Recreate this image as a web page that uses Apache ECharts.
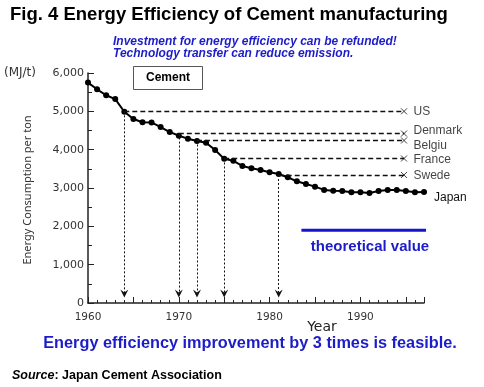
<!DOCTYPE html>
<html><head><meta charset="utf-8">
<script src="https://cdn.jsdelivr.net/npm/echarts@6/dist/echarts.min.js"></script>
<style>html,body{margin:0;padding:0;background:#fff}#c{width:484px;height:387px}</style>
</head><body><div id="c"></div>
<script>
const years = [1960,1961,1962,1963,1964,1965,1966,1967,1968,1969,1970,1971,1972,1973,1974,1975,1976,1977,1978,1979,1980,1981,1982,1983,1984,1985,1986,1987,1988,1989,1990,1991,1992,1993,1994,1995,1996,1997];
const japan = [5750,5575,5420,5320,4990,4800,4715,4710,4590,4460,4365,4285,4225,4180,3990,3760,3710,3575,3515,3470,3410,3365,3280,3175,3105,3035,2950,2930,2920,2890,2890,2870,2920,2950,2950,2920,2890,2895];
const countries = ['US','Denmark','Belgiu','France','Swede'];
const countryValues = [5000,4420,4240,3770,3340];
const countryYears = [1964,1970,1972,1975,1981];
const countryEndYear = 1994.8;
const theoreticalValue = 1900;
const theoreticalRange = [1983.5,1997.4];
const yTicks = [0,1000,2000,3000,4000,5000,6000];
const xLabels = [1960,1970,1980,1990];

const blue = '#1c1cc8';
const chart = echarts.init(document.getElementById('c'), null, {renderer:'canvas'});
const labelOffsets = {Denmark:[0,-3], Belgiu:[0,5], France:[0,1], Swede:[0,1], US:[0,0]};

const option = {
  animation:false,
  backgroundColor:'#fff',
  grid:{left:88,right:60,top:73,bottom:84},
  xAxis:{type:'value',min:1960,max:1997,interval:5,
    axisLine:{lineStyle:{color:'#222',width:1.5}},
    axisTick:{inside:true,length:6,lineStyle:{color:'#222'}},
    minorTick:{show:true,splitNumber:5,length:3,lineStyle:{color:'#222'}},
    splitLine:{show:false},
    axisLabel:{color:'#333',fontFamily:'DejaVu Sans',fontSize:10.5,margin:9,
      showMaxLabel:false,
      formatter:v=>xLabels.includes(v)?String(v):''}
  },
  yAxis:{type:'value',min:0,max:6000,interval:1000,
    axisLine:{show:true,lineStyle:{color:'#222',width:1.5}},
    axisTick:{show:true,inside:true,length:6,lineStyle:{color:'#222'}},
    minorTick:{show:true,splitNumber:2,length:4,lineStyle:{color:'#222'}},
    splitLine:{show:false},
    axisLabel:{color:'#333',fontFamily:'DejaVu Sans',fontSize:11,margin:4,
      formatter:v=>yTicks.includes(v)?v.toLocaleString('en-US'):''}
  },
  series:[
    {type:'line',silent:true,symbol:'none',data:[],
      markLine:{silent:true,symbol:['none','none'],label:{show:false},
        lineStyle:{color:'#111',type:[5,3],width:1.3},
        data:countries.map((c,i)=>[{coord:[countryYears[i],countryValues[i]]},{coord:[countryEndYear,countryValues[i]]}])}
    },
    {type:'line',silent:true,symbol:'none',data:[],
      markLine:{silent:true,symbol:['none','path://M5,0L10,10L5,6L0,10Z'],symbolSize:[8,8],label:{show:false},
        lineStyle:{color:'#111',type:[2,2],width:1},
        data:countries.map((c,i)=>[{coord:[countryYears[i],countryValues[i]]},{coord:[countryYears[i],250]}])}
    },
    {type:'scatter',symbol:'path://M0,0L10,10M0,10L10,0',symbolSize:6,
      itemStyle:{color:'none',borderColor:'#111',borderWidth:1},
      data:countries.map((c,i)=>({value:[countryEndYear,countryValues[i]],
        label:{show:true,position:'right',distance:4,formatter:c,offset:labelOffsets[c],
          color:'#111',fontFamily:'Liberation Sans',fontSize:12}}))
    },
    {type:'line',data:years.map((y,i)=>[y,japan[i]]),symbol:'circle',symbolSize:6,
      lineStyle:{color:'#000',width:2},itemStyle:{color:'#000'},
      endLabel:{show:true,formatter:'Japan',color:'#111',fontFamily:'Liberation Sans',fontSize:12,offset:[2,6]}
    },
    {type:'line',symbol:'none',clip:false,data:theoreticalRange.map(x=>[x,theoreticalValue]),
      lineStyle:{color:'#1414d2',width:3}}
  ],
  graphic:[
    {type:'text',left:10,top:5,style:{text:'Fig. 4 Energy Efficiency of Cement manufacturing',fill:'#000',font:'bold 18.5px "Liberation Sans"'}},
    {type:'text',left:113,top:35,style:{text:'Investment for energy efficiency can be refunded!\nTechnology transfer can reduce emission.',fill:blue,font:'italic bold 12px "Liberation Sans"',lineHeight:12.5}},
    {type:'text',left:4,top:67,style:{text:'(MJ/t)',fill:'#333',font:'12px "DejaVu Sans"'}},
    {type:'rect',shape:{x:133.5,y:66.5,width:69,height:23},style:{fill:'#fff',stroke:'#555',lineWidth:1}},
    {type:'text',x:168,y:78,style:{text:'Cement',fill:'#000',font:'bold 12px "Liberation Sans"',align:'center',verticalAlign:'middle'}},
    {type:'text',x:28,y:190,rotation:Math.PI/2,style:{text:'Energy Consumption per ton',fill:'#333',font:'11px "Noto Sans"',align:'center',verticalAlign:'middle'}},
    {type:'text',x:322,y:327,style:{text:'Year',fill:'#222',font:'14px "DejaVu Sans"',align:'center',verticalAlign:'middle'}},
    {type:'text',x:370,y:247,style:{text:'theoretical value',fill:blue,font:'bold 15px "Liberation Sans"',align:'center',verticalAlign:'middle'}},
    {type:'text',x:250,y:344,style:{text:'Energy efficiency improvement by 3 times is feasible.',fill:blue,font:'bold 16.3px "Liberation Sans"',align:'center',verticalAlign:'middle'}},
    {type:'text',left:12,top:369,style:{rich:{a:{font:'italic bold 12.5px "Liberation Sans"',fill:'#000'},b:{font:'bold 12.5px "Liberation Sans"',fill:'#000'}},text:'{a|Source}{b|: Japan Cement Association}'}}
  ]
};
chart.setOption(option);
</script></body></html>
